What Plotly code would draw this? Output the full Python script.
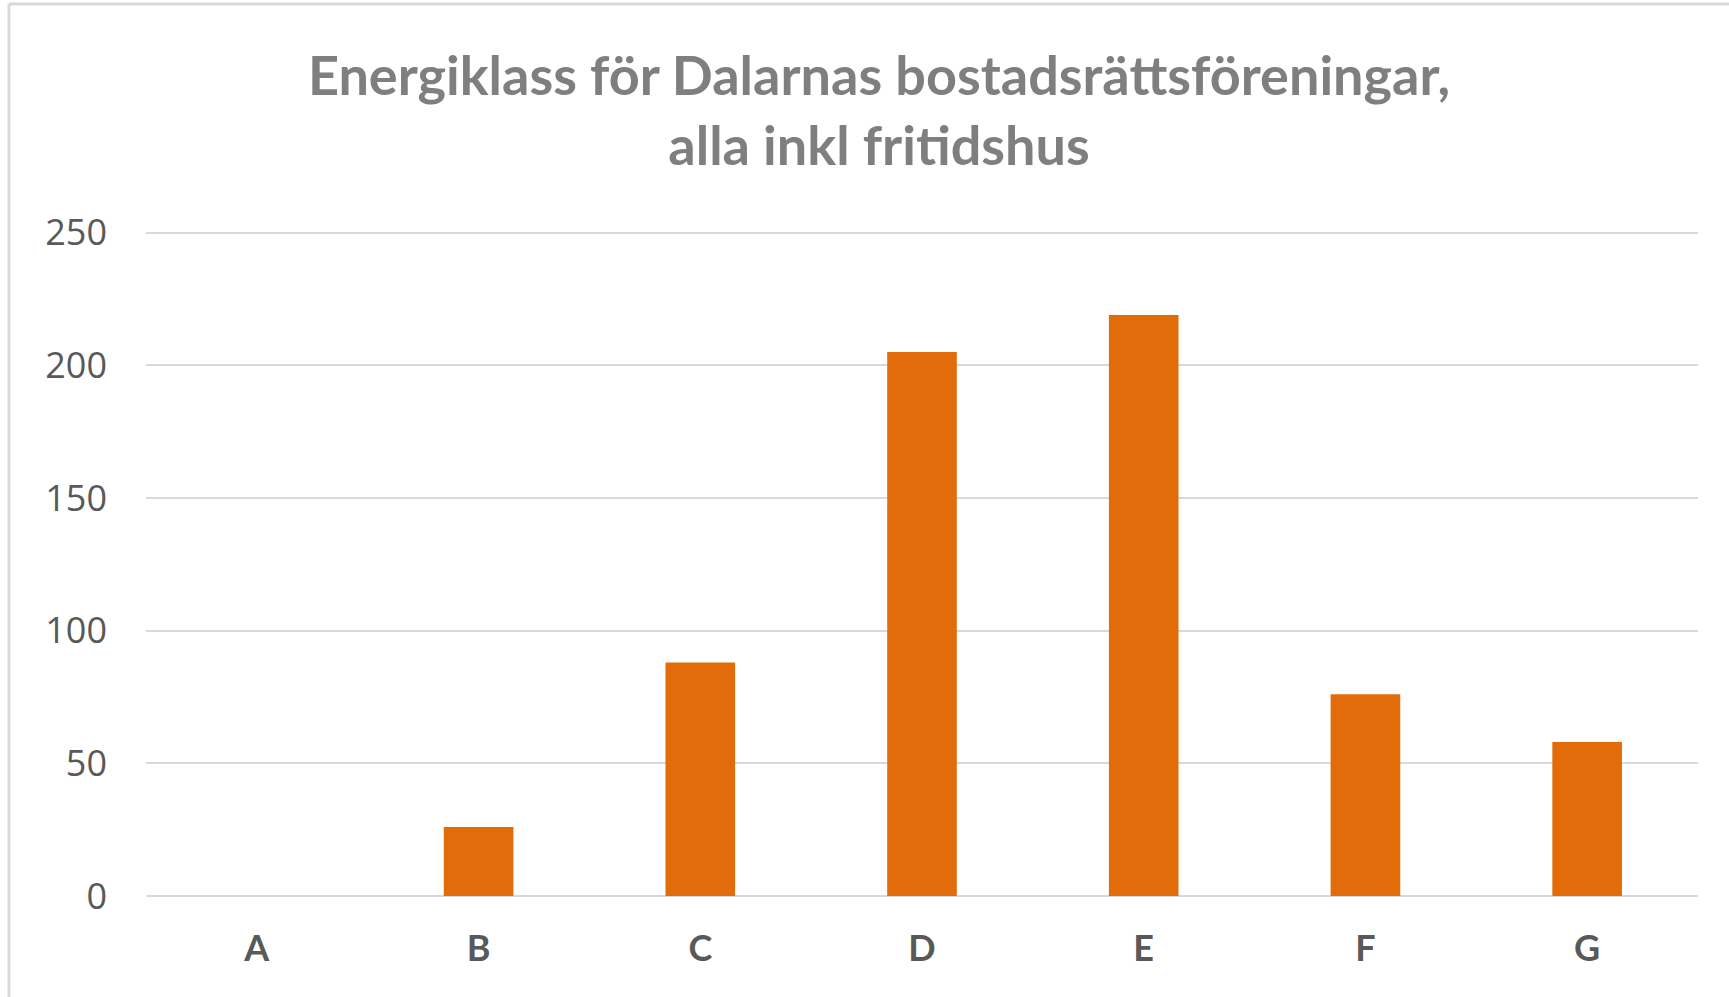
import plotly.graph_objects as go

categories = ["A", "B", "C", "D", "E", "F", "G"]
values = [0, 26, 88, 205, 219, 76, 58]
y_ticks = [0, 50, 100, 150, 200, 250]

W, H = 1729, 997
L, R, T, B = 146, 31, 230, 101
pw, ph = W - L - R, H - T - B

fig = go.Figure(go.Bar(
    x=categories, y=values,
    marker=dict(color="#E36C0A", line=dict(width=0)),
))

bx = (9 - L) / pw          # left border position in paper coords
by = (H - B - 4) / ph      # top border position in paper coords

fig.update_layout(
    width=W, height=H,
    margin=dict(l=L, r=R, t=T, b=B, autoexpand=False),
    paper_bgcolor="white", plot_bgcolor="white",
    bargap=0.686,
    showlegend=False,
    title=dict(
        text="Energiklass för Dalarnas bostadsrättsföreningar,<br>alla inkl fritidshus",
        font=dict(family="Lato", size=54, color="#7F7F7F", weight="bold"),
        x=879 / W, xanchor="center", xref="container",
        y=1 - 95 / H, yanchor="top", yref="container",
    ),
    xaxis=dict(
        showgrid=False, showline=False, zeroline=False,
        tickfont=dict(family="Lato", size=36, color="#595959", weight="bold"),
        ticks="", ticklabelstandoff=28,
    ),
    yaxis=dict(
        range=[0, 251], tickvals=y_ticks,
        showgrid=True, gridcolor="#D9D9D9", gridwidth=2,
        zeroline=True, zerolinecolor="#D9D9D9", zerolinewidth=2,
        showline=False, ticks="",
        tickfont=dict(family="Open Sans", size=36, color="#595959"),
        ticklabelstandoff=38,
    ),
    shapes=[
        dict(type="line", xref="paper", yref="paper",
             x0=bx, x1=bx, y0=-0.3, y1=by,
             line=dict(color="#D9D9D9", width=3)),
        dict(type="line", xref="paper", yref="paper",
             x0=bx, x1=1.1, y0=by, y1=by,
             line=dict(color="#D9D9D9", width=3)),
    ],
)

fig.write_html("out.html", config={"displayModeBar": False},
               post_script="document.body.style.margin='0';")
